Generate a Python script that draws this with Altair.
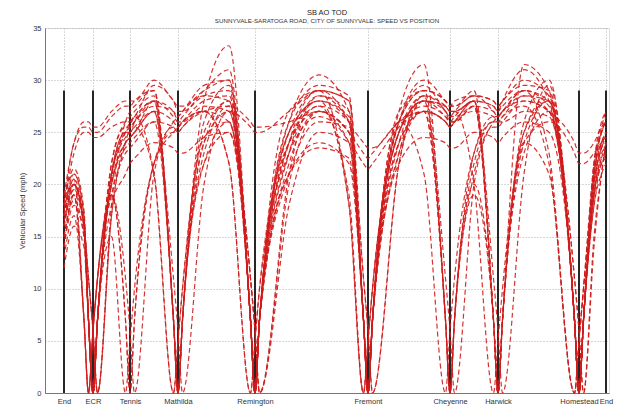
import altair as alt
import pandas as pd

# Sample positions along the corridor (feet from the south "End")
positions = [0, 200, 400, 490, 580, 670, 950, 1230, 1320, 1410, 1800, 2190, 2280,
             2370, 2800, 3300, 3730, 3820, 3910, 4500, 5100, 5700, 5990, 6080,
             6170, 6700, 7200, 7630, 7720, 7810, 8200, 8590, 8680, 8770, 9200,
             9700, 10210, 10300, 10390, 10600, 10750, 10840]

intersection_names = ["End", "ECR", "Tennis", "Mathilda", "Remington", "Fremont",
                      "Cheyenne", "Harwick", "Homestead", "End"]
intersection_pos = [0, 580, 1320, 2280, 3820, 6080, 7720, 8680, 10300, 10840]
signal_top = 29

# Speed (mph) of each probe run at the sample positions
run_01 = [17, 20.5, 16, 7, 0, 7, 20, 24, 24.5, 25, 27, 7, 0, 7, 23, 27.5, 7, 0, 7, 22, 27, 25, 7, 0, 7, 23, 28, 26.5, 26, 26, 27.5, 7, 0, 7, 24, 28, 7, 0, 7, 19, 22.5, 24]
run_02 = [15, 19, 7, 0, 6, 11, 19, 7, 0, 7, 22, 25.5, 25.5, 26, 27, 26, 11, 6, 0, 21, 28.5, 26, 7, 0, 7, 26, 21, 0, 6, 11, 23, 26, 26, 26.5, 28.5, 27, 7, 0, 7, 20, 23.5, 25]
run_03 = [19, 21, 17, 7, 0, 7, 21, 25, 25, 26, 28, 26.5, 26, 26.5, 28.5, 29, 7, 0, 7, 24, 29, 18, 0, 5, 10, 26, 29.5, 27, 26.5, 27, 28.5, 27, 26.5, 27, 29, 28, 11, 6, 0, 15, 21, 24]
run_04 = [18, 23, 25, 25, 24.5, 24.5, 25.5, 26, 26, 26.5, 28, 7, 0, 7, 22, 26, 7, 0, 7, 21, 26, 25.5, 24, 23.5, 23.5, 26, 27, 7, 0, 7, 20, 7, 0, 7, 25, 28.5, 7, 0, 7, 21, 24, 24.5]
run_05 = [16, 20, 16, 11, 6, 0, 17, 24, 25.5, 26.5, 21, 0, 5, 10, 25, 28, 7, 0, 7, 24, 27.5, 26, 7, 0, 7, 25, 28, 27.5, 27, 27, 28, 27.5, 27, 28, 31, 28, 7, 0, 7, 19, 22.5, 23]
run_06 = [14, 18, 15, 7, 0, 7, 15, 0, 5, 10, 22, 25, 25, 25.5, 27, 27.5, 26, 25.5, 25.5, 26, 27, 24, 7, 0, 7, 23, 27, 26, 25.5, 26, 28, 7, 0, 7, 24, 21, 0, 5, 10, 19, 22, 23]
run_07 = [17, 19.5, 16, 7, 0, 7, 20, 23.5, 24, 24.5, 26, 25.5, 25, 25.5, 27, 22, 0, 5, 10, 23, 26.5, 24, 7, 0, 7, 27, 31.5, 7, 0, 7, 23, 26.5, 26.5, 27, 28, 27, 24, 23, 23, 24, 25.5, 26]
run_08 = [18, 21.5, 17.5, 7, 0, 7, 22, 26, 26.5, 27, 28.5, 7, 0, 7, 28, 33.3, 7, 0, 7, 26, 30.5, 27, 11, 6, 0, 22, 28.5, 27, 26, 26.5, 28, 7, 0, 7, 31.5, 29, 7, 0, 7, 21, 25, 26]
run_09 = [19, 24, 26, 26, 25.5, 25.5, 27, 28, 28, 28, 30, 28, 27.5, 27.5, 29, 30, 7, 0, 7, 27, 29, 28, 7, 0, 7, 27, 29, 28, 27.5, 27.5, 28.5, 28, 27.5, 28, 29.5, 29, 7, 0, 7, 22, 26, 27]
run_10 = [13, 17, 7, 0, 6, 11, 19, 23, 23.5, 24, 26, 7, 0, 7, 22, 25, 11, 6, 0, 18, 25, 24, 22, 21.5, 22, 25.5, 27, 7, 0, 7, 22, 26, 26, 26, 27, 26.5, 7, 0, 7, 18, 22, 22.5]
run_11 = [16, 20, 16.5, 7, 0, 7, 19, 11, 6, 0, 21, 26, 26.5, 27, 28.5, 28, 7, 0, 7, 25, 28, 26.5, 7, 0, 7, 24, 28.5, 27.5, 27, 27, 20, 0, 5, 10, 25, 28, 7, 0, 7, 20, 23.5, 24.5]
run_12 = [18, 20, 16, 11, 6, 0, 17, 24, 24.5, 25, 27, 26, 25.5, 26, 28, 28.5, 7, 0, 7, 21, 24, 22, 7, 0, 7, 24, 27, 26, 25.5, 26, 27, 26.5, 26, 26.5, 27.5, 22, 0, 5, 10, 21, 24, 25]
run_13 = [15, 18.5, 15, 7, 0, 7, 21, 25, 25, 25.5, 21, 0, 5, 10, 24.5, 26, 7, 0, 7, 24, 28, 18, 0, 5, 10, 25, 28.5, 7, 0, 7, 21, 25.5, 25.5, 26, 28, 27, 7, 0, 7, 21, 25, 25.5]
run_14 = [17, 21, 17, 7, 0, 7, 22, 25.5, 25.5, 26, 28, 27, 26, 26, 27.5, 27, 11, 6, 0, 20, 27, 25, 7, 0, 7, 26, 30, 28, 27.5, 27.5, 29, 7, 0, 7, 24, 26, 23, 22, 22, 23, 24, 24.5]
run_15 = [16.5, 19, 7, 0, 6, 11, 20, 24, 24.5, 25, 28, 7, 0, 7, 24, 27, 25.5, 25, 25, 27, 29, 26, 7, 0, 7, 26, 29, 28, 27.5, 28, 28.5, 28, 27.5, 28, 30, 28.5, 11, 6, 0, 14, 21, 24]
run_16 = [18.5, 20, 16, 7, 0, 7, 21, 25, 25.5, 26, 27.5, 27, 26.5, 27, 29.5, 30, 7, 0, 7, 25, 29, 28, 11, 6, 0, 22, 28, 7, 0, 7, 19, 7, 0, 7, 23, 27, 7, 0, 7, 19, 23, 23.5]
run_17 = [17, 20, 16, 7, 0, 7, 19, 7, 0, 7, 22, 25, 25.5, 26, 27, 22, 0, 5, 10, 24, 27, 25, 23, 22.5, 23, 26, 27.5, 26.5, 26, 26, 27.5, 27, 26.5, 27, 28.5, 28, 7, 0, 7, 20, 23.5, 24]
run_18 = [14, 19, 16, 11, 6, 0, 18, 26, 27, 27.5, 29, 7, 0, 7, 26, 29.5, 7, 0, 7, 25, 28, 26, 7, 0, 7, 24, 27, 26, 25.5, 26, 28, 11, 6, 0, 21, 29.5, 7, 0, 7, 21, 25, 26]
run_19 = [12, 16, 14, 7, 0, 7, 18, 21, 22, 22.5, 24, 23.5, 23, 23, 24.5, 25, 7, 0, 7, 21, 23.5, 22.5, 7, 0, 7, 22, 24.5, 24, 23.5, 23.5, 25, 24.5, 24, 24.5, 26, 25, 7, 0, 7, 18, 21, 22]
run_20 = [17.5, 20.5, 7, 0, 6, 11, 21, 24.5, 25, 25.5, 27, 11, 6, 0, 20, 27, 7, 0, 7, 23, 27.5, 19, 0, 5, 10, 25, 28, 27, 26.5, 26.5, 27.5, 7, 0, 7, 26, 30, 7, 0, 7, 20, 24, 25]
run_21 = [16, 19.5, 16, 7, 0, 7, 20.5, 25, 26, 26.5, 29.5, 28, 27, 27, 29, 31, 7, 0, 7, 26, 29.5, 28.5, 7, 0, 7, 26, 29, 11, 6, 0, 20, 26, 26.5, 27, 29, 27.5, 7, 0, 7, 22, 25, 26.5]
run_22 = [18, 24, 25.5, 25.5, 25, 25, 26.5, 27.5, 27.5, 28, 29, 7, 0, 7, 24, 28, 7, 0, 7, 23, 28.5, 27, 7, 0, 7, 25, 28, 27.5, 27, 27, 28, 27.5, 27, 27.5, 29, 23, 0, 5, 10, 22, 25.5, 27]

runs = [run_01, run_02, run_03, run_04, run_05, run_06, run_07, run_08, run_09,
        run_10, run_11, run_12, run_13, run_14, run_15, run_16, run_17, run_18,
        run_19, run_20, run_21, run_22]

rows = []
for i, r in enumerate(runs):
    assert len(r) == len(positions), (i + 1, len(r))
    for p, s in zip(positions, r):
        rows.append({"run": i + 1, "pos": p, "speed": s})
df = pd.DataFrame(rows)

df_int = pd.DataFrame({"pos": intersection_pos, "speed": [0] * len(intersection_pos),
                       "speed2": [signal_top] * len(intersection_pos)})

label_expr = ""
for p, n in zip(intersection_pos, intersection_names):
    label_expr += f"datum.value == {p} ? '{n}' : "
label_expr += "''"

font = "Liberation Sans"
xscale = alt.Scale(domain=[-380, 10900], nice=False, zero=False)
yscale = alt.Scale(domain=[0, 35], nice=False)

rules = alt.Chart(df_int).mark_rule(color="#262626", strokeWidth=2).encode(
    x=alt.X("pos:Q", scale=xscale),
    y=alt.Y("speed:Q", scale=yscale),
    y2="speed2:Q",
)

lines = alt.Chart(df).mark_line(
    color="#d01c1c", strokeDash=[5, 3], strokeWidth=1.2, interpolate="monotone", opacity=0.9
).encode(
    x=alt.X("pos:Q", scale=xscale,
            axis=alt.Axis(values=intersection_pos, labelExpr=label_expr, title=None,
                          grid=True, gridDash=[1, 2], gridColor="#b0b0b0",
                          ticks=False, labelPadding=4, labelFontSize=7.5,
                          labelColor="#333", labelFont=font, domainColor="#777",
                          labelOverlap=False)),
    y=alt.Y("speed:Q", scale=yscale,
            axis=alt.Axis(values=list(range(0, 36, 5)), title="Vehicular Speed (mph)",
                          grid=True, gridDash=[1, 2], gridColor="#b0b0b0",
                          ticks=False, labelPadding=4, labelFontSize=7.5,
                          labelColor="#333", labelFont=font, domainColor="#777",
                          titleFont=font, titleFontSize=7.5, titleFontWeight="normal",
                          titleColor="#333", titlePadding=6)),
    detail="run:N",
)

chart = alt.layer(rules, lines).properties(
    width=564, height=365,
    title=alt.Title("SB AO TOD",
                    subtitle="SUNNYVALE-SARATOGA ROAD, CITY OF SUNNYVALE: SPEED VS POSITION",
                    font=font, fontSize=7.5, fontWeight="normal", color="#222",
                    subtitleFont=font, subtitleFontSize=6.2, subtitleColor="#333",
                    subtitlePadding=1, offset=0, anchor="middle"),
    autosize=alt.AutoSizeParams(type="none"),
    padding={"left": 37, "top": 20, "right": 8, "bottom": 14},
).configure_view(stroke="#777", strokeWidth=1).configure(background="white")

chart.save("out.html", embed_options={"renderer": "svg", "actions": False})
